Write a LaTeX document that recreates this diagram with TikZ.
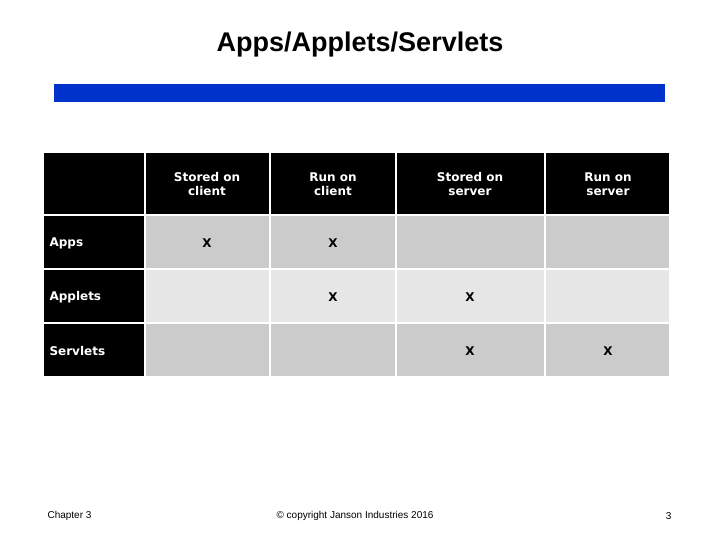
\documentclass[tikz,border=0pt]{standalone}
\usepackage{fontspec}
\setmainfont{Liberation Sans}
\newfontfamily\verd{DejaVu Sans}
\definecolor{barblue}{HTML}{0033CC}
\definecolor{dgray}{HTML}{CBCBCB}
\definecolor{lgray}{HTML}{E6E6E6}
\begin{document}
\begin{tikzpicture}[x=1pt,y=-1pt,
  cell/.style={draw=white,line width=2pt},
  tx/.style={font=\verd\bfseries\fontsize{12}{14}\selectfont,align=center},
  hd/.style={tx,text=white},
  foot/.style={font=\fontsize{10}{12}\selectfont}]
\useasboundingbox (0,0) rectangle (720,540);
\node[font=\bfseries\fontsize{27}{32}\selectfont] (title) at (360,45) {Apps/Applets/Servlets};
\fill[barblue] (54,84) rectangle (665,102);
% columns: 43,145,270,396,545,670 ; rows 152,215,269,323,377
\foreach \a/\b in {43/145,145/270,270/396,396/545,545/670}{
  \filldraw[cell,fill=black] (\a,152) rectangle (\b,215);}
\foreach \y/\z/\c in {215/269/dgray,269/323/lgray,323/377/dgray}{
  \filldraw[cell,fill=black] (43,\y) rectangle (145,\z);
  \foreach \a/\b in {145/270,270/396,396/545,545/670}{
    \filldraw[cell,fill=\c] (\a,\y) rectangle (\b,\z);}}
\node[hd] (h1) at (207,184) {Stored on\\client};
\node[hd] (h2) at (333,184) {Run on\\client};
\node[hd] (h3) at (470,184) {Stored on\\server};
\node[hd] (h4) at (608,184) {Run on\\server};
\node[hd,anchor=west] (r1) at (46,243) {Apps};
\node[hd,anchor=west] (r2) at (46,297) {Applets};
\node[hd,anchor=west] (r3) at (46,351) {Servlets};
\node[tx] (x11) at (207,243) {X};
\node[tx] (x12) at (333,243) {X};
\node[tx] (x22) at (333,297) {X};
\node[tx] (x23) at (470,297) {X};
\node[tx] (x33) at (470,351) {X};
\node[tx] (x34) at (608,351) {X};
\node[foot,anchor=west] (f1) at (44,516) {Chapter 3};
\node[foot] (f2) at (355,516) {© copyright Janson Industries 2016};
\node[foot,anchor=east] (f3) at (675,516) {3};
\end{tikzpicture}
\end{document}
